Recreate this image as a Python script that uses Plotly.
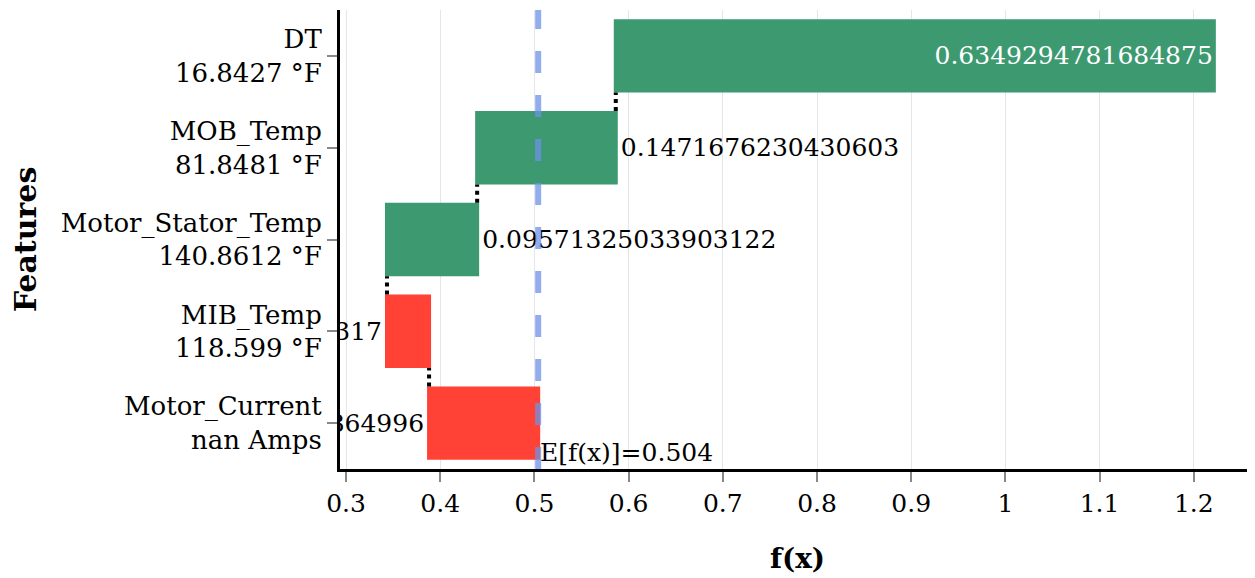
import plotly.graph_objects as go

# ---- data ----
features = ["Motor_Current", "MIB_Temp", "Motor_Stator_Temp", "MOB_Temp", "DT"]
feature_values = ["nan Amps", "118.599 °F", "140.8612 °F", "81.8481 °F", "16.8427 °F"]
shap_values = [-0.1158372013864996, -0.0446713912874317, 0.09571325033903122,
               0.1471676230430603, 0.6349294781684875]
expected_value = 0.504

tick_text = [f"{f}<br>{v}" for f, v in zip(features, feature_values)]
text_labels = [repr(v) for v in shap_values]

FONT = "DejaVu Serif"

fig = go.Figure(go.Waterfall(
    orientation="h",
    y=features,
    x=shap_values,
    base=expected_value,
    measure=["relative"] * len(features),
    text=text_labels,
    textposition="auto",
    textfont=dict(family=FONT, size=25),
    increasing=dict(marker=dict(color="#3D9970")),
    decreasing=dict(marker=dict(color="#FF4136")),
    connector=dict(line=dict(color="black", width=4, dash="dot")),
))

fig.add_shape(type="line", xref="x", yref="paper",
              x0=expected_value, x1=expected_value, y0=0, y1=1,
              line=dict(color="rgba(110,145,232,0.75)", width=6, dash="22px,22px"))

fig.add_annotation(x=expected_value, y=0, xref="x", yref="paper",
                   text=f"E[f(x)]={expected_value}", showarrow=False,
                   xanchor="left", yanchor="bottom",
                   font=dict(family=FONT, size=25, color="black"))

fig.update_layout(
    width=1247, height=570,
    margin=dict(l=332, r=0, t=2, b=109),
    paper_bgcolor="white", plot_bgcolor="white",
    font=dict(family=FONT, size=25, color="black"),
    showlegend=False,
    xaxis=dict(
        range=[0.2936, 1.265],
        dtick=0.1, tick0=0.3,
        showgrid=True, gridcolor="#e6e6e6", gridwidth=1,
        zeroline=False,
        showline=True, linecolor="black", linewidth=3,
        ticks="outside", ticklen=10, tickcolor="#888", tickwidth=2,
        tickfont=dict(family=FONT, size=25),
        title=dict(text="<b>f(x)</b>", font=dict(family=FONT, size=28), standoff=32),
    ),
    yaxis=dict(
        type="category",
        tickmode="array", tickvals=features, ticktext=tick_text,
        showgrid=False, zeroline=False,
        showline=True, linecolor="black", linewidth=3,
        ticks="outside", ticklen=10, tickcolor="#888", tickwidth=2,
        tickfont=dict(family=FONT, size=26),
        title=dict(text="<b>Features</b>", font=dict(family=FONT, size=30), standoff=26),
    ),
)

fig.write_html("out.html")
